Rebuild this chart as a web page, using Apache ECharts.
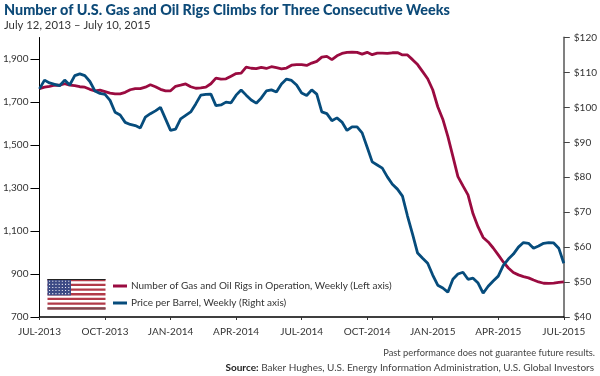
<!DOCTYPE html>
<html>
<head>
<meta charset="utf-8">
<script src="https://cdn.jsdelivr.net/npm/echarts@6/dist/echarts.min.js"></script>
<style>html,body{margin:0;padding:0;background:#fff}#c{width:600px;height:376px}</style>
</head>
<body>
<div id="c"></div>
<script>
const titleText = 'Number of U.S. Gas and Oil Rigs Climbs for Three Consecutive Weeks';
const subtitleText = 'July 12, 2013 – July 10, 2015';
const disclaimerText = 'Past performance does not guarantee future results.';
const sourceLabel = 'Source:';
const sourceText = ' Baker Hughes, U.S. Energy Information Administration, U.S. Global Investors';
const rigName = 'Number of Gas and Oil Rigs in Operation, Weekly (Left axis)';
const priceName = 'Price per Barrel, Weekly (Right axis)';
const xTickLabels = ['JUL-2013','OCT-2013','JAN-2014','APR-2014','JUL-2014','OCT-2014','JAN-2015','APR-2015','JUL-2015'];
const leftTicks = [700,900,1100,1300,1500,1700,1900];
const rigs = [1762,1769,1773,1778,1778,1785,1778,1776,1771,1769,1759,1752,1755,1748,1741,1738,1738,1745,1757,1762,1762,1769,1780,1771,1759,1752,1752,
1773,1778,1784,1771,1764,1766,1769,1785,1811,1806,1808,1820,1832,1834,1862,1857,1855,1861,1856,1864,1860,1854,1858,1871,1874,1874,
1870,1881,1889,1909,1912,1897,1915,1926,1931,1932,1931,1923,1931,1920,1927,1927,1926,1929,1930,1919,1919,1897,1874,1841,1808,1757,1678,1620,1540,1447,1353,1310,1268,1180,1119,1070,1049,1021,989,956,928,907,896,888,882,872,863,857,856,858,861,863];
const prices = [105.3,107.8,107.0,106.6,106.2,107.8,106.4,109.1,109.6,109.1,107.4,104.7,104,103.7,102,98.6,97.8,95.7,95.1,94.8,94.1,97.2,98.2,99,100,96.7,93.4,
93.8,96.7,97.7,98.7,101,103.5,103.7,103.8,100.5,100.7,101.5,101.3,103.5,105,103.5,102.1,101.2,102.7,104.7,105,104.4,106.7,108.1,107.7,106.4,104.1,
103.4,105,103.8,98.7,98.2,96.2,97,95.8,93.4,94.4,94.4,92.7,88.6,84.4,83.5,82.6,80.1,78,76.6,74.6,68.9,63.7,58.3,56.8,55.4,52,49.1,48.3,47.1,50.8,52.3,52.8,50.8,51.1,49.7,46.8,48.8,50.3,51.7,54.8,56.6,58,60,61.3,61.1,59.7,60.3,61.1,61.3,61.2,59.7,55.4];

const weeks = rigs.map((_, i) => (i % 13 === 0 ? xTickLabels[i / 13] : ''));
const font = 'Lato';
const rigColor = '#9a0b40';
const priceColor = '#064c7c';

// Flag decoration
const flag = [];
const fx = 47.5, fy = 279, fw = 58, fh = 30.5, sh = fh / 13;
flag.push({type:'rect',shape:{x:fx,y:fy,width:fw,height:fh},style:{fill:'#fff'}});
for (let i = 0; i < 13; i += 2) {
  flag.push({type:'rect',shape:{x:fx,y:fy+i*sh,width:fw,height:sh},style:{fill:'#b23a48'}});
}
flag.push({type:'rect',shape:{x:fx,y:fy,width:23.5,height:sh*7},style:{fill:'#3c4a85'}});
for (let r = 0; r < 5; r++) for (let c = 0; c < 7; c++) {
  flag.push({type:'rect',shape:{x:fx+1.5+c*3.2,y:fy+1.7+r*3.1,width:1.1,height:1.1},style:{fill:'#e8e8f0'}});
}
flag.push({type:'rect',shape:{x:fx,y:fy,width:fw,height:1},style:{fill:'#222'}});
flag.push({type:'rect',shape:{x:fx,y:fy+fh-2,width:fw,height:2},style:{fill:'#7a4a50'}});

const chart = echarts.init(document.getElementById('c'), null, {renderer:'canvas'});
chart.setOption({
  animation:false,
  textStyle:{fontFamily:font},
  title:[
    {text:titleText,left:4,top:3,padding:0,textStyle:{fontFamily:font,fontSize:14.4,fontWeight:900,color:'#0d4a78'}},
    {text:subtitleText,left:4,top:20,padding:0,textStyle:{fontFamily:font,fontSize:11.3,fontWeight:400,color:'#333'}},
    {text:disclaimerText,right:5,top:348,padding:0,textStyle:{fontFamily:font,fontSize:9.3,fontWeight:400,color:'#444'}},
    {text:'{b|'+sourceLabel+'}{n|'+sourceText+'}',right:6,top:363,padding:0,textStyle:{rich:{
      b:{fontFamily:font,fontSize:10,fontWeight:700,color:'#222'},
      n:{fontFamily:font,fontSize:10,fontWeight:400,color:'#444'}}}}
  ],
  legend:{
    orient:'vertical',left:113,top:281,itemWidth:14,itemHeight:3,itemGap:7,padding:0,
    icon:'rect',
    textStyle:{fontFamily:font,fontSize:10,color:'#333',padding:[0,0,0,-1]},
    data:[rigName,priceName]
  },
  grid:{left:38.5,right:33,top:37.5,bottom:59,containLabel:false},
  xAxis:{
    type:'category',data:weeks,boundaryGap:false,
    axisLine:{lineStyle:{color:'#000',width:1.5}},
    axisTick:{alignWithLabel:true,interval:12,length:3,inside:false,lineStyle:{color:'#333',width:1}},
    axisLabel:{interval:12,margin:10,fontSize:10,color:'#333',showMinLabel:true,showMaxLabel:true,hideOverlap:false},
    splitLine:{show:false}
  },
  yAxis:[
    {type:'value',min:700,max:2000,position:'left',
     axisLine:{show:true,lineStyle:{color:'#000',width:1}},
     axisTick:{show:true,length:9,customValues:leftTicks,lineStyle:{color:'#000',width:1}},
     axisLabel:{customValues:leftTicks,margin:11,fontSize:10,color:'#333',formatter:v=>v.toLocaleString('en-US')},
     splitLine:{show:false}},
    {type:'value',min:40,max:120,interval:10,position:'right',
     axisLine:{show:true,lineStyle:{color:'#808080',width:2}},
     axisTick:{show:true,length:6,lineStyle:{color:'#444',width:1}},
     axisLabel:{margin:10,fontSize:10,color:'#333',formatter:v=>'$'+v},
     splitLine:{show:false}}
  ],
  graphic:flag,
  series:[
    {name:rigName,type:'line',yAxisIndex:0,data:rigs,symbol:'none',smooth:false,
     lineStyle:{color:rigColor,width:2.8},itemStyle:{color:rigColor},z:2},
    {name:priceName,type:'line',yAxisIndex:1,data:prices,symbol:'none',smooth:false,
     lineStyle:{color:priceColor,width:2.8},itemStyle:{color:priceColor},z:3}
  ]
});
</script>
</body>
</html>
